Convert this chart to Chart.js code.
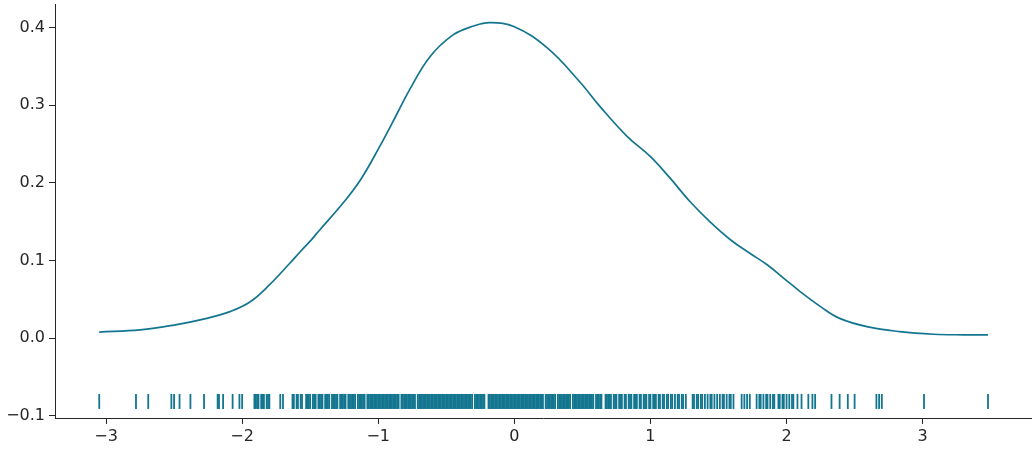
<!DOCTYPE html>
<html>
<head>
<meta charset="utf-8">
<script src="https://cdn.jsdelivr.net/npm/chart.js@4/dist/chart.umd.min.js"></script>
<style>
  body { margin: 0; background: #fff; }
</style>
</head>
<body>
<canvas id="kde" width="1035" height="450"></canvas>
<script>
// density curve
const kdeX = [-3.05, -2.75, -2.50, -2.26, -2.09, -1.94, -1.80, -1.65, -1.57, -1.49, -1.43, -1.26, -1.13,
  -0.99, -0.86, -0.77, -0.62, -0.45, -0.30, -0.18, 0.00, 0.24, 0.48, 0.63, 0.83, 1.00, 1.14, 1.29,
  1.44, 1.59, 1.73, 1.86, 1.98, 2.10, 2.25, 2.39, 2.59, 2.83, 3.08, 3.30, 3.48];
const kdeY = [0.0080, 0.0107, 0.0170, 0.0257, 0.0343, 0.0471, 0.0686, 0.0965, 0.1120, 0.1270, 0.1394,
  0.1737, 0.2040, 0.2466, 0.2896, 0.3197, 0.3624, 0.3904, 0.4018, 0.4062, 0.4010, 0.3740, 0.3302,
  0.2981, 0.2595, 0.2338, 0.2070, 0.1760, 0.1495, 0.1265, 0.1094, 0.0943, 0.0772, 0.0601, 0.0407,
  0.0256, 0.0150, 0.0086, 0.0052, 0.0045, 0.0045];

// rug observations
const rugLeft = [-3.05, -2.78, -2.69, -2.52, -2.50, -2.46, -2.38, -2.28, -2.18, -2.17, -2.14, -2.07,
  -2.02, -2.00, -1.91, -1.90, -1.89, -1.88, -1.86, -1.85, -1.84, -1.82, -1.81, -1.80, -1.72, -1.70,
  -1.63, -1.62, -1.60, -1.59, -1.57, -1.56, -1.53, -1.52, -1.51, -1.50, -1.48, -1.47, -1.46, -1.44,
  -1.43, -1.42, -1.41, -1.39, -1.38, -1.37, -1.36, -1.34, -1.33, -1.32, -1.31, -1.30, -1.28, -1.27,
  -1.26, -1.25, -1.24, -1.22, -1.21, -1.20, -1.19, -1.18, -1.17, -1.15, -1.14, -1.13, -1.12, -1.11,
  -1.10, -1.08, -1.07, -1.06, -1.05, -1.04, -1.03, -1.02, -1.01];
const rugCore = [-1.00, -0.99, -0.98, -0.97, -0.96, -0.95, -0.94, -0.93, -0.92, -0.91, -0.90, -0.89,
  -0.88, -0.87, -0.86, -0.85, -0.83, -0.82, -0.81, -0.80, -0.79, -0.78, -0.77, -0.76, -0.75, -0.74,
  -0.73, -0.71, -0.70, -0.69, -0.68, -0.67, -0.66, -0.65, -0.64, -0.63, -0.62, -0.61, -0.60, -0.59,
  -0.58, -0.57, -0.56, -0.55, -0.54, -0.53, -0.52, -0.51, -0.50, -0.49, -0.48, -0.47, -0.46, -0.45,
  -0.44, -0.43, -0.42, -0.41, -0.40, -0.39, -0.38, -0.37, -0.36, -0.35, -0.34, -0.33, -0.32, -0.31,
  -0.29, -0.28, -0.27, -0.26, -0.25, -0.24, -0.23, -0.22, -0.19, -0.18, -0.17, -0.16, -0.15, -0.14,
  -0.13, -0.12, -0.11, -0.10, -0.09, -0.08, -0.07, -0.06, -0.05, -0.04, -0.03, -0.02, -0.01, 0.00,
  0.01, 0.02, 0.03, 0.04, 0.05, 0.06, 0.07, 0.08, 0.09, 0.10, 0.11, 0.12, 0.13, 0.14, 0.15, 0.16,
  0.17, 0.18, 0.19, 0.20, 0.21, 0.23, 0.24, 0.25, 0.26, 0.27, 0.28, 0.29, 0.30, 0.32, 0.33, 0.34,
  0.35, 0.36, 0.37, 0.38, 0.39, 0.40, 0.41, 0.43, 0.44, 0.45, 0.46, 0.47, 0.48, 0.49, 0.50, 0.51,
  0.52, 0.53, 0.54, 0.55, 0.56, 0.57, 0.58, 0.60, 0.61, 0.62, 0.63, 0.64, 0.67, 0.68, 0.69];
const rugRight = [0.70, 0.71, 0.73, 0.74, 0.75, 0.77, 0.78, 0.79, 0.81, 0.82, 0.84, 0.85, 0.86, 0.88,
  0.89, 0.90, 0.92, 0.93, 0.95, 0.96, 0.97, 0.99, 1.00, 1.02, 1.03, 1.04, 1.06, 1.07, 1.09, 1.10,
  1.12, 1.13, 1.15, 1.16, 1.18, 1.20, 1.21, 1.23, 1.24, 1.26, 1.31, 1.32, 1.34, 1.35, 1.37, 1.38,
  1.40, 1.42, 1.44, 1.45, 1.47, 1.49, 1.51, 1.53, 1.54, 1.56, 1.58, 1.59, 1.61, 1.67, 1.69, 1.71,
  1.73, 1.78, 1.80, 1.81, 1.83, 1.85, 1.86, 1.88, 1.90, 1.91, 1.94, 1.95, 1.97, 1.98, 2.00, 2.02,
  2.04, 2.05, 2.08, 2.11, 2.16, 2.19, 2.21, 2.33, 2.39, 2.45, 2.50, 2.66, 2.68, 2.70, 3.01, 3.48];
const rugLevel = -0.0813;

const xTicks = [-3, -2, -1, 0, 1, 2, 3];
const yTicks = [-0.1, 0.0, 0.1, 0.2, 0.3, 0.4];

const teal = "#13758f";
const ink = "#262626";

const rugX = rugLeft.concat(rugCore, rugRight);

new Chart(document.getElementById("kde"), {
    type: "scatter",
    data: {
        datasets: [{
            data: kdeX.map((x, i) => ({ x, y: kdeY[i] })),
            showLine: true,
            borderColor: teal,
            borderWidth: 1.7,
            pointRadius: 0,
            tension: 0.4,
            fill: false
        },
        {
            data: rugX.map(x => ({ x, y: rugLevel })),
            pointStyle: "line",
            rotation: 90,
            radius: 7.5,
            borderWidth: 1.8,
            borderColor: teal,
            backgroundColor: teal,
            pointHoverRadius: 7.5
        }]
    },
    options: {
        responsive: false,
        animation: false,
        events: [],
        layout: { autoPadding: false, padding: { top: 4, right: 4, left: 0, bottom: 0 } },
        plugins: { legend: { display: false }, tooltip: { enabled: false } },
        scales: {
            x: {
                type: "linear",
                min: -3.375,
                max: 3.796,
                afterBuildTicks: s => { s.ticks = xTicks.map(value => ({ value })); },
                afterFit: s => { s.height = 32; s.paddingLeft = 0; s.paddingRight = 0; },
                grid: { display: true, drawOnChartArea: false, drawTicks: true, tickLength: 6, color: ink, lineWidth: 1 },
                border: { display: true, color: ink, width: 1 },
                ticks: {
                    color: ink,
                    padding: 3,
                    maxRotation: 0,
                    font: { family: "DejaVu Sans", size: 16 },
                    callback: v => String(v).replace("-", "\u2212")
                }
            },
            y: {
                type: "linear",
                min: -0.1026,
                max: 0.4302,
                afterBuildTicks: s => { s.ticks = yTicks.map(value => ({ value })); },
                afterFit: s => { s.width = 55; s.paddingTop = 0; s.paddingBottom = 0; },
                grid: { display: true, drawOnChartArea: false, drawTicks: true, tickLength: 6, color: ink, lineWidth: 1 },
                border: { display: true, color: ink, width: 1 },
                ticks: {
                    color: ink,
                    padding: 4,
                    font: { family: "DejaVu Sans", size: 16 },
                    callback: v => v.toFixed(1).replace("-", "\u2212")
                }
            }
        }
    }
});
</script>
</body>
</html>
